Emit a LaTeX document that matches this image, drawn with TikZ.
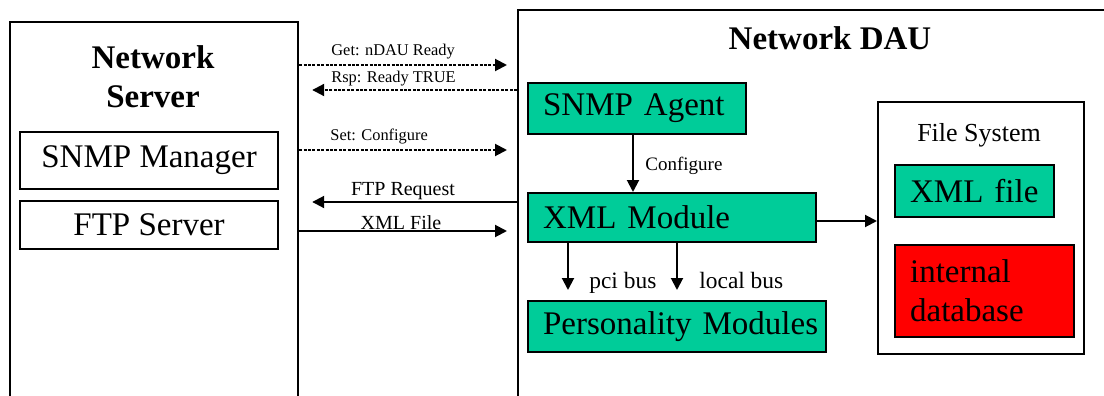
\documentclass[tikz,border=0pt]{standalone}
\usepackage{fontspec}
\setmainfont{Liberation Serif}
\usetikzlibrary{arrows.meta, positioning}
\definecolor{modgreen}{RGB}{0,204,153}

\begin{document}
\begin{tikzpicture}[x=0.5pt, y=-0.5pt,
                box/.style={draw, line width=1.1pt, anchor=north west, inner sep=0pt},
                plainbox/.style={box, font=\fontsize{16.5}{19.5}\selectfont},
                module/.style={box, fill=modgreen, align=left, inner xsep=7.5pt,
                               font=\fontsize{16.5}{19.5}\selectfont},
                heading/.style={font=\bfseries\fontsize{16.5}{19.5}\selectfont, align=center},
                msg/.style={-{Triangle[length=6pt, width=6pt]}, line width=1pt},
                dmsg/.style={msg, dash pattern=on 1.5pt off 0.7pt},
                lbl/.style={font=\fontsize{8.2}{10}\selectfont, anchor=base west, inner sep=0pt},
                blbl/.style={font=\fontsize{10}{12}\selectfont, anchor=base, inner sep=0pt}]

                % picture frame, the two big boxes run past it
                \clip (0,0) rectangle (1104,396);

                % Network Server on the left
                \node[box, minimum width=144pt, minimum height=210pt] (srv) at (9,21) {};
                \node[heading] (srvtitle) at (153,77) {Network\\Server};
                \node[plainbox, minimum width=129pt, minimum height=28.5pt] (mgr) at (19,131) {SNMP Manager};
                \node[plainbox, minimum width=129pt, minimum height=24pt] (ftp) at (19,200) {FTP Server};

                % Network DAU on the right
                \node[box, minimum width=350pt, minimum height=210pt] (dau) at (517,9) {};
                \node[heading] (dautitle) at (830,38) {Network DAU};
                \node[module, text width=94pt, minimum height=25.5pt] (agent) at (527,82) {SNMP Agent};
                \node[module, text width=129pt, minimum height=24.5pt] (xmlmod) at (527,192) {XML Module};
                \node[module, text width=134pt, minimum height=25.5pt] (pers) at (527,300)
                    {\mbox{Personality Modules}};

                % File System inside the DAU
                \node[box, minimum width=103pt, minimum height=126pt] (fs) at (877,101) {};
                \node[font=\fontsize{13}{15}\selectfont] (fstitle) at (979,135) {File System};
                \node[module, text width=64.5pt, minimum height=26pt] (xmlf) at (894,164) {XML file};
                \node[module, fill=red, text width=74.5pt, minimum height=46pt] (idb) at (894,244)
                    {internal\\database};

                % messages between server and DAU
                \draw[dmsg, shorten >=5pt] (srv.east |- 0,65) -- (dau.west |- 0,65);
                \draw[dmsg, shorten >=6.5pt] (dau.west |- 0,90) -- (srv.east |- 0,90);
                \draw[dmsg, shorten >=5pt] (srv.east |- 0,150) -- (dau.west |- 0,150);
                \draw[msg, shorten >=6.5pt] (dau.west |- 0,202) -- (srv.east |- 0,202);
                \draw[msg, shorten >=5pt] (srv.east |- 0,231) -- (dau.west |- 0,231);
                \node[lbl] (getlbl) at (331,55) {Get: nDAU Ready};
                \node[lbl] (rsplbl) at (331,82) {Rsp: Ready TRUE};
                \node[lbl] (setlbl) at (330,140) {Set: Configure};
                \node[blbl] (ftplbl) at (403,195) {FTP Request};
                \node[blbl] (xmllbl) at (401,229) {XML File};

                % inside the DAU
                \draw[msg] (agent.south -| 633,0) -- (xmlmod.north -| 633,0);
                \node[lbl, font=\fontsize{9.5}{11}\selectfont] (cfglbl) at (645,170) {Configure};
                \draw[msg, shorten >=5pt] (xmlmod.south -| 568,0) -- (pers.north -| 568,0);
                \draw[msg, shorten >=5pt] (xmlmod.south -| 677,0) -- (pers.north -| 677,0);
                \node[lbl, font=\fontsize{11.7}{14}\selectfont] (pcilbl) at (589,288) {pci bus};
                \node[lbl, font=\fontsize{11.7}{14}\selectfont] (loclbl) at (699,288) {local bus};
                \draw[msg] (xmlmod.east |- 0,221) -- (fs.west |- 0,221);
\end{tikzpicture}
\end{document}
